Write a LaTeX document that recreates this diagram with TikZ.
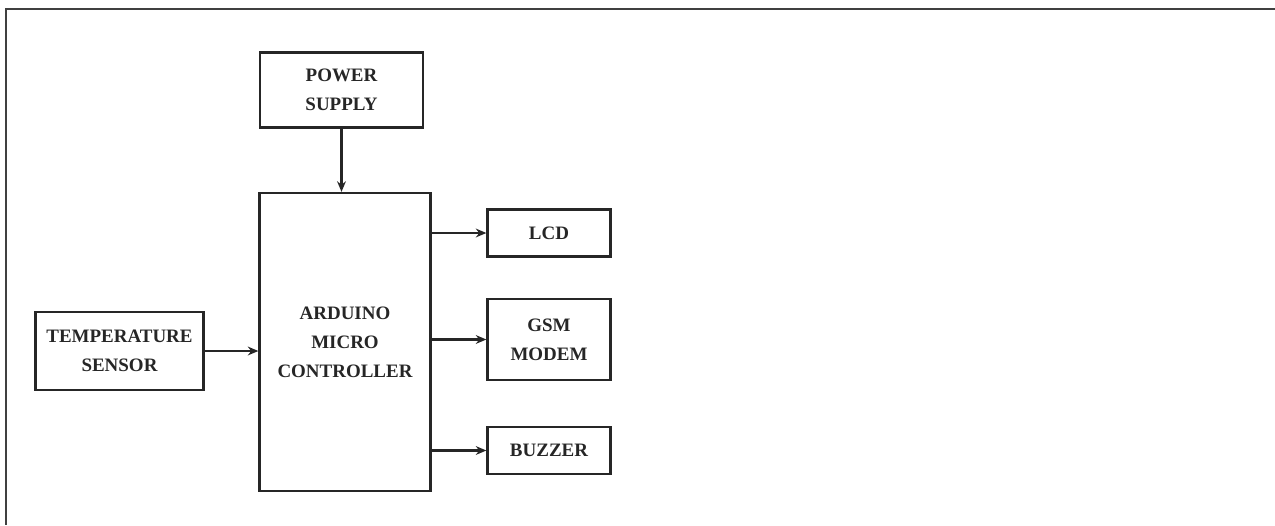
\documentclass[tikz,border=0pt]{standalone}
\usepackage{fontspec}
\setmainfont{Liberation Serif}
\usepackage{tikz}
\usetikzlibrary{positioning, arrows.meta, calc}

\begin{document}
\begin{tikzpicture}[
    block/.style={draw=black!85, line width=1.3pt, inner sep=0pt, align=center, text=black!85,
        font=\bfseries\fontsize{10.8}{16.5}\selectfont},
    link/.style={-{Stealth[length=6pt, width=5pt]}, line width=1.4pt, draw=black!85},
]

\useasboundingbox (0,0) rectangle (25.5,10.5);
% page frame
\draw[line width=1.2pt, black!75] (25.5,10.32) -- (0.12,10.32) -- (0.12,0);

\node[block, minimum width=3.26cm, minimum height=1.5cm] (power) at (6.83, 8.7) {POWER\\SUPPLY};
\node[block, minimum width=3.42cm, minimum height=5.96cm] (arduino) at (6.9, 3.66) {ARDUINO\\MICRO\\CONTROLLER};
\node[block, minimum width=3.36cm, minimum height=1.56cm] (temp) at (2.39, 3.48) {TEMPERATURE\\SENSOR};

\node[block, minimum width=2.46cm, minimum height=0.94cm] (lcd) at (10.98, 5.84) {LCD};
\node[block, minimum width=2.46cm, minimum height=1.62cm] (gsm) at (10.98, 3.71) {GSM\\MODEM};
\node[block, minimum width=2.46cm, minimum height=0.94cm] (buzzer) at (10.98, 1.49) {BUZZER};

\draw[link] (power) -- (power |- arduino.north);
\draw[link] (temp) -- (temp -| arduino.west);
\draw[link] (arduino.east |- lcd) -- (lcd);
\draw[link] (arduino.east |- gsm) -- (gsm);
\draw[link] (arduino.east |- buzzer) -- (buzzer);

\end{tikzpicture}
\end{document}
